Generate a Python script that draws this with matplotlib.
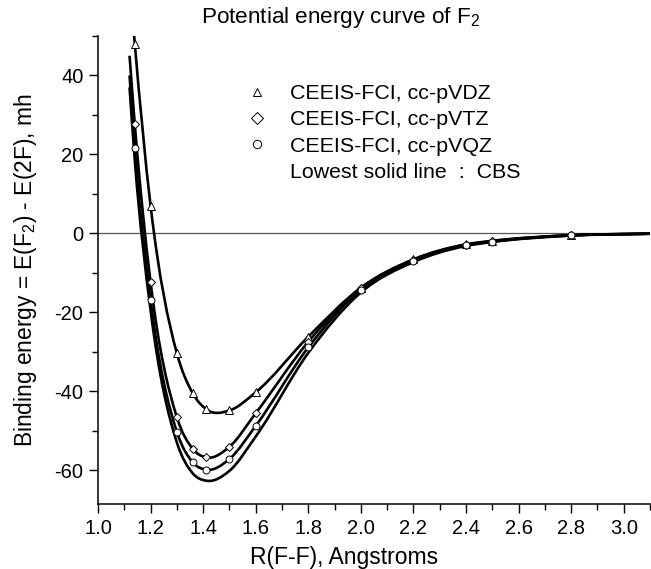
import numpy as np
import matplotlib
matplotlib.use('Agg')
import matplotlib.pyplot as plt
from matplotlib.path import Path
from matplotlib.patches import PathPatch
from matplotlib.lines import Line2D
from matplotlib.ticker import MultipleLocator

plt.rcParams['font.family'] = ['Liberation Sans', 'DejaVu Sans']
plt.rcParams['mathtext.fontset'] = 'custom'
plt.rcParams['mathtext.rm'] = 'Liberation Sans'
plt.rcParams['mathtext.default'] = 'regular'
plt.rcParams['axes.unicode_minus'] = False

# ---- data ----
r_pts = [1.14, 1.20, 1.30, 1.36, 1.412, 1.50, 1.60, 1.80, 2.00, 2.20, 2.40, 2.50, 2.80]
e_vdz = [48.0, 7.0, -30.4, -40.5, -44.6, -44.9, -40.3, -26.2, -13.8, -6.6, -2.8, -1.9, -0.5]
e_vtz = [27.6, -12.4, -46.6, -54.6, -56.8, -54.1, -45.6, -27.5, -13.9, -6.7, -2.9, -2.0, -0.5]
e_vqz = [21.6, -17.0, -50.3, -58.0, -59.9, -57.2, -48.8, -28.9, -14.3, -6.9, -3.0, -2.1, -0.5]
r_cbs = [1.12, 1.14, 1.20, 1.30, 1.36, 1.412, 1.50, 1.60, 1.80, 2.00, 2.20, 2.40, 2.50, 2.80, 3.10]
e_cbs = [37.0, 18.5, -19.5, -53.0, -60.8, -62.7, -60.2, -51.5, -30.3, -15.0, -7.3, -3.2, -2.2, -0.6, -0.1]
# where the fitted curves begin / end beyond the marked points
curve_start_r = [1.130, 1.12, 1.12]
curve_start_e = [56.0, 45.0, 40.0]
curve_end_r = 3.10
curve_end_e = -0.1

labels = ['CEEIS-FCI, cc-pVDZ', 'CEEIS-FCI, cc-pVTZ', 'CEEIS-FCI, cc-pVQZ']
cbs_label = 'Lowest solid line  :  CBS'
x_ticks = [1.0, 1.2, 1.4, 1.6, 1.8, 2.0, 2.2, 2.4, 2.6, 2.8, 3.0]
y_ticks = [-60, -40, -20, 0, 20, 40]


def smooth_path(xs, ys):
    xs = np.asarray(xs, float)
    ys = np.asarray(ys, float)
    h = np.diff(xs)
    d = np.diff(ys) / h
    n = len(xs)
    m = np.empty(n)
    m[1:-1] = (h[1:] * d[:-1] + h[:-1] * d[1:]) / (h[:-1] + h[1:])
    m[0] = d[0]
    m[-1] = d[-1]
    verts = [(xs[0], ys[0])]
    codes = [Path.MOVETO]
    for i in range(n - 1):
        hh = h[i]
        verts += [(xs[i] + hh / 3, ys[i] + m[i] * hh / 3),
                  (xs[i + 1] - hh / 3, ys[i + 1] - m[i + 1] * hh / 3),
                  (xs[i + 1], ys[i + 1])]
        codes += [Path.CURVE4] * 3
    return Path(verts, codes)


fig = plt.figure(figsize=(6.51, 5.69), dpi=100)
ax = fig.add_axes([98 / 651, 1 - 504 / 569, (650 - 98) / 651, (504 - 36) / 569])

ax.axhline(0, color='#555555', lw=0.9, zorder=1)

series = [e_vdz, e_vtz, e_vqz]
markers = ['^', 'D', 'o']
msizes = [5.5, 4.2, 5.0]
for k, e in enumerate(series):
    xs = [curve_start_r[k]] + r_pts + [curve_end_r]
    ys = [curve_start_e[k]] + e + [curve_end_e]
    ax.add_patch(PathPatch(smooth_path(xs, ys), fill=False, lw=1.9,
                           edgecolor='black', zorder=2))
ax.add_patch(PathPatch(smooth_path(r_cbs, e_cbs), fill=False, lw=1.9,
                       edgecolor='black', zorder=2))
for k, e in enumerate(series):
    ax.plot(r_pts, e, ls='none', marker=markers[k], ms=msizes[k], mfc='white',
            mec='black', mew=0.7, zorder=3)

ax.set_xlim(1.0, 3.1)
ax.set_ylim(-68.6, 50)
ax.set_xticks(x_ticks)
ax.set_xticklabels([f'{v:.1f}' for v in x_ticks])
ax.set_yticks(y_ticks)
ax.set_yticklabels([str(v) for v in y_ticks])
ax.xaxis.set_minor_locator(MultipleLocator(0.1))
ax.yaxis.set_minor_locator(MultipleLocator(10))
ax.tick_params(which='both', direction='out', width=1.0, labelsize=14.5)
ax.tick_params(which='major', length=6.5, pad=4)
ax.tick_params(which='minor', length=4)
for s in ['top', 'right']:
    ax.spines[s].set_visible(False)
for s in ['left', 'bottom']:
    ax.spines[s].set_linewidth(1.1)

ax.set_xlabel('R(F-F), Angstroms', fontsize=16.5)
ax.xaxis.set_label_coords((344 - 98) / 552, -0.09)
ax.set_ylabel('Binding energy = E(F$_2$) - E(2F), mh', fontsize=16.4)
ax.yaxis.set_label_coords(-(98 - 39) / 552, 0.5)

fig.text(340 / 651, 1 - 18 / 569, 'Potential energy curve of F$_2$',
         fontsize=16.2, ha='center', va='center')

handles = [Line2D([], [], ls='none', marker=mk, ms=6, mfc='white', mec='black', mew=0.7)
           for mk in markers]
handles.append(Line2D([], [], ls='none'))
leg = ax.legend(handles, labels + [cbs_label], loc='upper left',
                bbox_to_anchor=(246 / 651, 1 - 84 / 569), bbox_transform=fig.transFigure,
                frameon=False, fontsize=15.4, handlelength=1.0, handletextpad=1.05,
                borderpad=0, borderaxespad=0, labelspacing=0.345)

fig.savefig('out.png', dpi=100)
